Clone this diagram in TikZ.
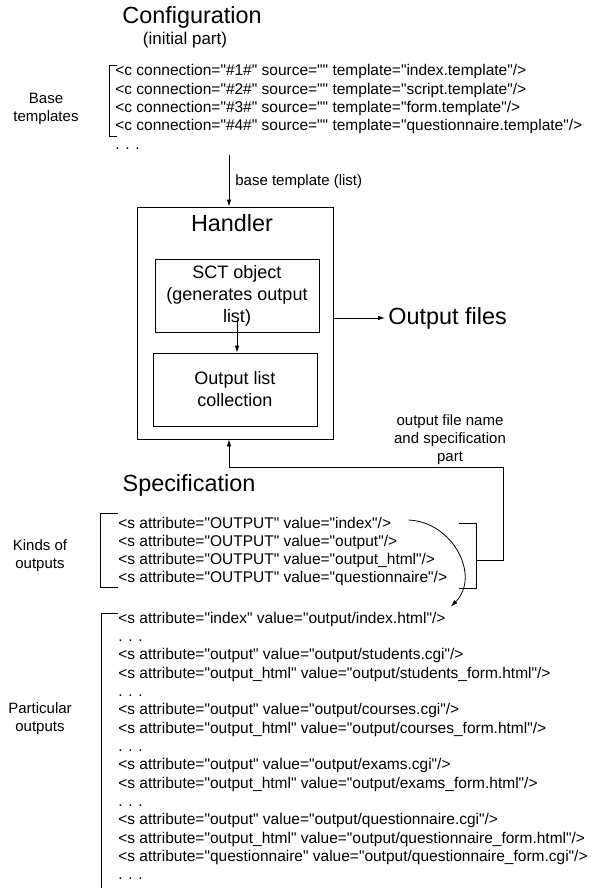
\documentclass[tikz,border=0pt]{standalone}
\usepackage{fontspec}
% plain family without TeX ligature mapping, so " stays a straight quote
\newfontfamily\plainsans{Liberation Sans}
\usetikzlibrary{arrows.meta}

\begin{document}
\begin{tikzpicture}[x=1pt, y=-1pt, line width=0.8pt,
  code/.style={anchor=west, inner sep=0pt, text height=11pt, text depth=3pt,
    font=\plainsans\fontsize{15.5}{18}\selectfont},
  sidelabel/.style={align=center, inner sep=0pt, font=\plainsans\fontsize{15}{18}\selectfont},
  heading/.style={inner sep=0pt, font=\plainsans\fontsize{23.4}{28}\selectfont},
  box/.style={draw, inner sep=0pt, align=center, font=\plainsans\fontsize{18}{22}\selectfont},
  arr/.style={-{Latex[length=7pt,width=4.5pt]}},
]
\useasboundingbox (0,0) rectangle (595,888);

% ---------- configuration (initial part) ----------
\node[heading] (conftitle) at (192,17) {Configuration};
\node[inner sep=0pt, font=\plainsans\fontsize{17}{20}\selectfont] (confsub) at (185,40) {(initial part)};

\node[sidelabel] (baselbl) at (46,109) {Base\\templates};
\draw (117,65) -- (109,65) -- (109,136) -- (117,136);

\node[code] (b1) at (115,72)    {<c connection="\#1\#" source="" template="index.template"/>};
\node[code] (b2) at (115,90.3)  {<c connection="\#2\#" source="" template="script.template"/>};
\node[code] (b3) at (115,108.6) {<c connection="\#3\#" source="" template="form.template"/>};
\node[code] (b4) at (115,127)   {<c connection="\#4\#" source="" template="questionnaire.template"/>};
\node[code] (b5) at (115,145)   {. . .};

% ---------- handler ----------
\coordinate (basefoot) at (229,155);
\node[box, minimum width=196pt, minimum height=232pt] (handler) at (235,323) {};
\node[heading] (handlertitle) at (232,223) {Handler};
\node[box, minimum width=164pt, minimum height=73pt] (sct) at (237,295.5)
  {SCT object\\(generates output\\list)};
\node[box, minimum width=164pt, minimum height=73pt] (outlist) at (235,389.5)
  {Output list\\collection};

\draw[arr] (basefoot) -- (basefoot |- handler.north);
\node[anchor=west, inner sep=0pt, font=\plainsans\fontsize{15}{18}\selectfont] (basearrlbl) at (235,182)
  {base template (list)};

\coordinate (sctfoot) at (237,320);
\draw[arr] (sctfoot) -- (sctfoot |- outlist.north);

\node[heading, anchor=west, inner sep=3pt] (outfiles) at (385,318) {Output files};
\draw[arr] (handler.east |- outfiles.west) -- (outfiles.west);

% ---------- specification ----------
\node[heading] (spectitle) at (189,485) {Specification};

\node[sidelabel] (kindslbl) at (40,556) {Kinds of\\outputs};
\draw (118,513) -- (100,513) -- (100,587) -- (118,587);

\node[code] (k1) at (118,524) {<s attribute="OUTPUT" value="index"/>};
\node[code] (k2) at (118,542) {<s attribute="OUTPUT" value="output"/>};
\node[code] (k3) at (118,560) {<s attribute="OUTPUT" value="output\_html"/>};
\node[code] (k4) at (118,578) {<s attribute="OUTPUT" value="questionnaire"/>};

% right bracket of the kinds and the feedback into the handler
\draw (459,523) -- (476,523) -- (476,588) -- (459,588);
\coordinate (kindsmid) at (476,560);
\coordinate (fbcorner) at (503,467);
\draw[arr] (kindsmid) -- (kindsmid -| fbcorner) -- (fbcorner)
  -- (fbcorner -| basefoot) -- (basefoot |- handler.south);
\node[align=center, inner sep=0pt, font=\plainsans\fontsize{15}{18}\selectfont] (fblbl) at (450,440)
  {output file name\\and specification\\part};

\node[sidelabel] (partlbl) at (40,719) {Particular\\outputs};
\draw (118,613) -- (101,613) -- (101,890);

\node[code] (p0)  at (118,619.0) {<s attribute="index" value="output/index.html"/>};
\node[code] (p1)  at (118,637.4) {. . .};
\node[code] (p2)  at (118,655.7) {<s attribute="output" value="output/students.cgi"/>};
\node[code] (p3)  at (118,674.1) {<s attribute="output\_html" value="output/students\_form.html"/>};
\node[code] (p4)  at (118,692.4) {. . .};
\node[code] (p5)  at (118,710.8) {<s attribute="output" value="output/courses.cgi"/>};
\node[code] (p6)  at (118,729.1) {<s attribute="output\_html" value="output/courses\_form.html"/>};
\node[code] (p7)  at (118,747.5) {. . .};
\node[code] (p8)  at (118,765.8) {<s attribute="output" value="output/exams.cgi"/>};
\node[code] (p9)  at (118,784.2) {<s attribute="output\_html" value="output/exams\_form.html"/>};
\node[code] (p10) at (118,802.5) {. . .};
\node[code] (p11) at (118,820.9) {<s attribute="output" value="output/questionnaire.cgi"/>};
\node[code] (p12) at (118,839.2) {<s attribute="output\_html" value="output/questionnaire\_form.html"/>};
\node[code] (p13) at (118,857.6) {<s attribute="questionnaire" value="output/questionnaire\_form.cgi"/>};
\node[code] (p14) at (118,875.9) {. . .};

% the kind "index" leads to its particular output
\draw[arr] ([xshift=17pt,yshift=4pt]k1.east) .. controls +(45,2) and +(30,-30)
  .. ([xshift=5pt,yshift=5pt]p0.north east);
\end{tikzpicture}
\end{document}
